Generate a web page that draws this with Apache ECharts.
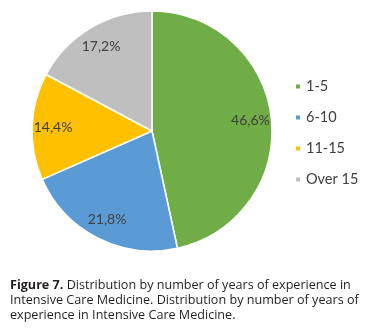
<!DOCTYPE html>
<html><head><meta charset="utf-8">
<script src="https://cdn.jsdelivr.net/npm/echarts@6/dist/echarts.min.js"></script>
<style>html,body{margin:0;padding:0;background:#fff}#c{width:370px;height:330px}</style>
</head><body><div id="c"></div>
<script>
const categories = ['1-5', '6-10', '11-15', 'Over 15'];
const values = [46.6, 21.8, 14.4, 17.2];
const colors = ['#70AD47', '#5B9BD5', '#FFC000', '#BFBFBF'];
const captionBold = 'Figure 7.';
const captionLines = [' Distribution by number of years of experience in', 'Intensive Care Medicine. Distribution by number of years of', 'experience in Intensive Care Medicine.'];

const pieData = categories.map((c, i) => ({ name: c, value: values[i], itemStyle: { color: colors[i] } }));
const chart = echarts.init(document.getElementById('c'));
chart.setOption({
  animation: false,
  backgroundColor: '#fff',
  title: {
    left: 5, top: 273,
    text: '{b|' + captionBold + '}{n|' + captionLines[0] + '}\n{n|' + captionLines[1] + '}\n{n|' + captionLines[2] + '}',
    textStyle: {
      fontWeight: 'normal',
      rich: {
        b: { fontFamily: 'Open Sans', fontWeight: 'bold', fontSize: 12.6, color: '#231F20', lineHeight: 15 },
        n: { fontFamily: 'Open Sans', fontWeight: 'normal', fontSize: 12.6, color: '#231F20', lineHeight: 15 }
      }
    }
  },
  legend: {
    orient: 'vertical',
    left: 289, top: 74,
    itemWidth: 6, itemHeight: 6, itemGap: 16,
    icon: 'rect',
    textStyle: { fontFamily: 'Lato', fontSize: 14.5, color: '#404040' },
    data: categories
  },
  series: [{
    type: 'pie',
    center: [152, 131],
    radius: [0, 120],
    startAngle: 90,
    clockwise: true,
    label: { show: false },
    labelLine: { show: false },
    itemStyle: { borderColor: '#fff', borderWidth: 1.5 },
    emphasis: { disabled: true },
    data: pieData
  }, {
    type: 'pie',
    center: [152, 131],
    radius: [72, 120],
    startAngle: 90,
    clockwise: true,
    silent: true,
    label: {
      position: 'inside',
      formatter: p => p.value.toFixed(1).replace('.', ',') + '%',
      fontFamily: 'Lato', fontSize: 14, color: '#404040'
    },
    labelLine: { show: false },
    itemStyle: { color: 'transparent', borderWidth: 0 },
    emphasis: { disabled: true },
    data: categories.map((c, i) => ({ name: c, value: values[i], itemStyle: { color: 'transparent' } }))
  }]
});
</script></body></html>
